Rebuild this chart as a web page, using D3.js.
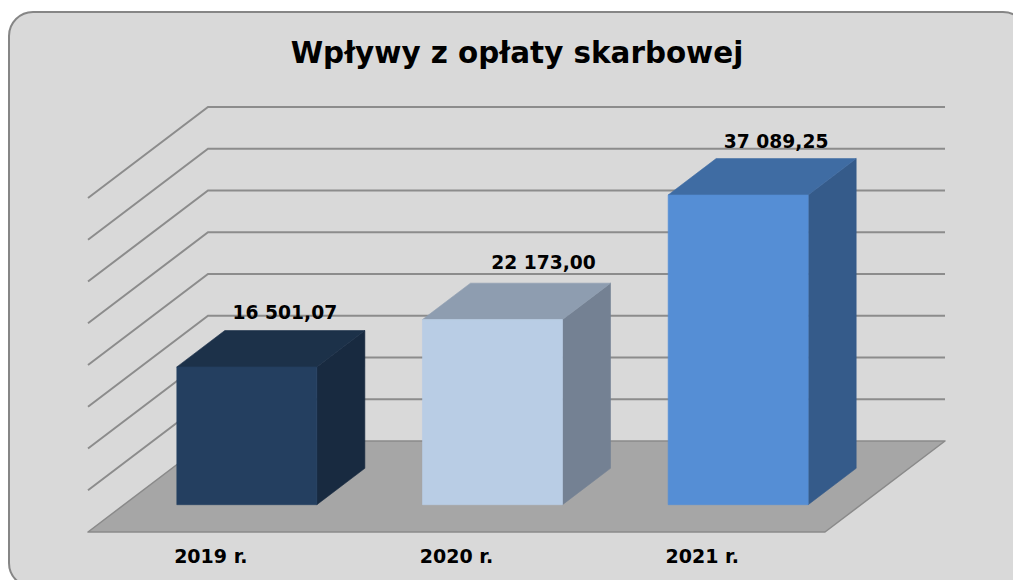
<!DOCTYPE html>
<html>
<head>
<meta charset="utf-8">
<script src="https://cdn.jsdelivr.net/npm/d3@7"></script>
<style>
  body { margin: 0; background: #fff; }
  svg { display: block; }
  text { font-family: "DejaVu Sans", Verdana, sans-serif; font-weight: bold; fill: #000; }
</style>
</head>
<body>
<div id="chart"></div>
<script>
var titleText = "Wpływy z opłaty skarbowej";
var categories = ["2019 r.", "2020 r.", "2021 r."];
var values = [16501.07, 22173.00, 37089.25];
var valueLabels = ["16 501,07", "22 173,00", "37 089,25"];
var yTicks = [0, 5000, 10000, 15000, 20000, 25000, 30000, 35000, 40000];
var frontColors = ["#243f60", "#b9cde5", "#558ed5"];
var topColors = ["#1c3149", "#8e9db0", "#3f6ca3"];
var sideColors = ["#182a40", "#748193", "#355b8a"];

var width = 1013, height = 580;

var svg = d3.select("#chart").append("svg")
    .attr("width", width)
    .attr("height", height);

// chart frame, runs off the right and bottom of the picture
svg.append("rect")
    .attr("x", 9).attr("y", 12)
    .attr("width", 1018).attr("height", 575)
    .attr("rx", 24).attr("ry", 24)
    .attr("fill", "#d9d9d9")
    .attr("stroke", "#868686")
    .attr("stroke-width", 2);

svg.append("text")
    .attr("x", 517).attr("y", 63)
    .attr("text-anchor", "middle")
    .style("font-size", "29.4px")
    .text(titleText);

// front plane of the floor, depth goes 0..1 towards the back wall
var floorY = 532;
var xScale = d3.scaleBand().domain(categories).range([88, 825]);
var yScale = d3.scaleLinear().domain([0, 40000]).range([0, -334]);
var depthX = d3.scaleLinear().domain([0, 1]).range([0, 120]);
var depthY = d3.scaleLinear().domain([0, 1]).range([0, -91]);

var barInset = 0.215;   // share of the band left empty either side
var barNear = 0.3, barFar = 0.7;

function pt(x, v, depth) {
    return [x + depthX(depth), floorY + yScale(v) + depthY(depth)];
}
var line = d3.line();

// floor
svg.append("path")
    .attr("d", line([pt(88, 0, 0), pt(825, 0, 0), pt(825, 0, 1), pt(88, 0, 1)]) + "Z")
    .attr("fill", "#a6a6a6")
    .attr("stroke", "#8a8a8a")
    .attr("stroke-width", 1.5)
    .attr("stroke-linejoin", "round");

// gridlines: side wall + back wall
svg.append("g").selectAll("path")
    .data(yTicks.slice(1))
    .enter().append("path")
    .attr("d", function(d) { return line([pt(88, d, 0), pt(88, d, 1), pt(825, d, 1)]); })
    .attr("fill", "none")
    .attr("stroke", "#8c8c8c")
    .attr("stroke-width", 2);

var bars = svg.append("g").selectAll("g")
    .data(categories)
    .enter().append("g");

function barGeom(i) {
    var x0 = xScale(categories[i]) + xScale.bandwidth() * barInset;
    var x1 = xScale(categories[i]) + xScale.bandwidth() * (1 - barInset);
    return { x0: x0, x1: x1, v: values[i] };
}

// side face
bars.append("path")
    .attr("d", function(d, i) {
        var b = barGeom(i);
        return line([pt(b.x1, 0, barNear), pt(b.x1, 0, barFar), pt(b.x1, b.v, barFar), pt(b.x1, b.v, barNear)]) + "Z";
    })
    .attr("fill", function(d, i) { return sideColors[i]; })
    .attr("stroke", function(d, i) { return sideColors[i]; })
    .attr("stroke-width", 0.6);

// top face
bars.append("path")
    .attr("d", function(d, i) {
        var b = barGeom(i);
        return line([pt(b.x0, b.v, barNear), pt(b.x1, b.v, barNear), pt(b.x1, b.v, barFar), pt(b.x0, b.v, barFar)]) + "Z";
    })
    .attr("fill", function(d, i) { return topColors[i]; })
    .attr("stroke", function(d, i) { return topColors[i]; })
    .attr("stroke-width", 0.6);

// front face
bars.append("path")
    .attr("d", function(d, i) {
        var b = barGeom(i);
        return line([pt(b.x0, 0, barNear), pt(b.x1, 0, barNear), pt(b.x1, b.v, barNear), pt(b.x0, b.v, barNear)]) + "Z";
    })
    .attr("fill", function(d, i) { return frontColors[i]; })
    .attr("stroke", function(d, i) { return frontColors[i]; })
    .attr("stroke-width", 0.6);

// data labels sit over the back of the top face, nudged by hand like the original
var labelShiftX = [-10, 3, -10];
var labelShiftY = [0.5, -2, 1.5];
svg.append("g").selectAll("text")
    .data(valueLabels)
    .enter().append("text")
    .attr("x", function(d, i) {
        var p = pt(xScale(categories[i]) + xScale.bandwidth() / 2, values[i], barFar);
        return p[0] + labelShiftX[i];
    })
    .attr("y", function(d, i) { return pt(0, values[i], barFar)[1] - 12 + labelShiftY[i]; })
    .attr("text-anchor", "middle")
    .style("font-size", "18.7px")
    .text(function(d) { return d; });

// category axis under the floor
var axis = d3.axisBottom(xScale).tickSize(0).tickPadding(0);
var axisG = svg.append("g")
    .attr("transform", "translate(0," + (floorY + 17.5) + ")")
    .call(axis);
axisG.attr("font-family", null).attr("font-size", null);
axisG.select(".domain").remove();
axisG.selectAll("text")
    .style("font-size", "19px");
</script>
</body>
</html>
